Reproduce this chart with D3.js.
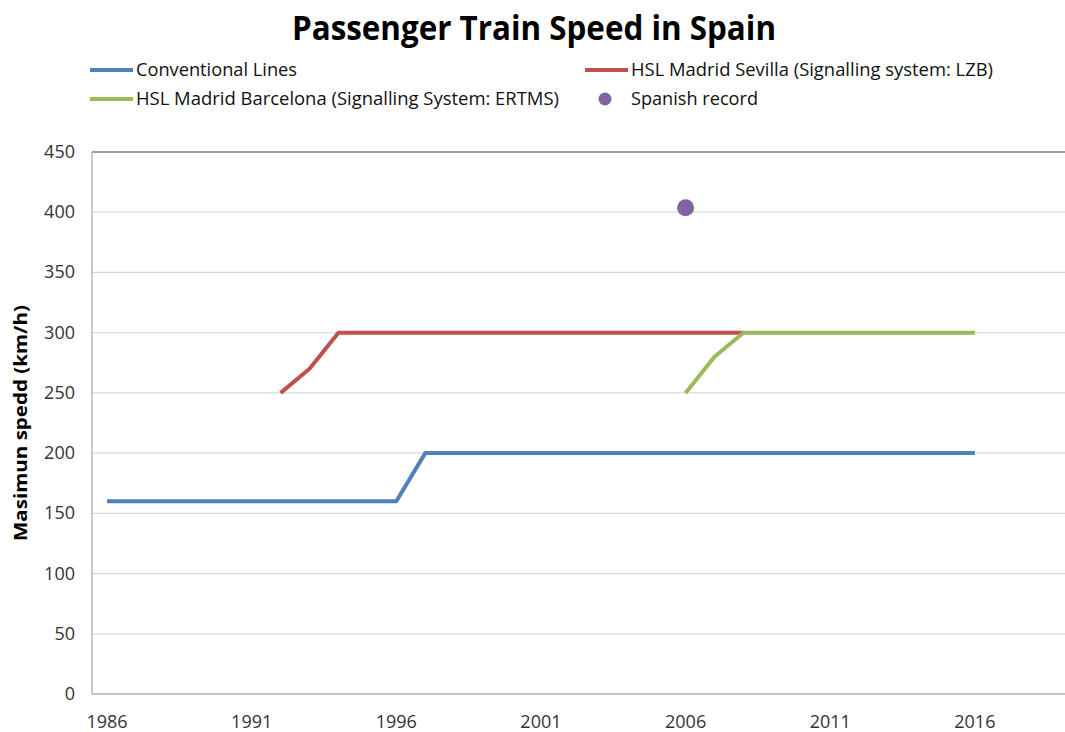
<!DOCTYPE html>
<html>
<head>
<meta charset="utf-8">
<script src="https://cdn.jsdelivr.net/npm/d3@7"></script>
<style>
  body { margin: 0; background: #fff; }
  text { font-family: "Liberation Sans Narrow", "Open Sans", sans-serif; }
</style>
</head>
<body>
<div id="chart"></div>
<script>
// data
const years = d3.range(1986, 2017);
const conventional = [160,160,160,160,160,160,160,160,160,160,160,
  200,200,200,200,200,200,200,200,200,200,200,200,200,200,200,200,200,200,200,200];
const sevillaYears = d3.range(1992, 2009);
const sevilla = [250,270,300,300,300,300,300,300,300,300,300,300,300,300,300,300,300];
const barcelonaYears = d3.range(2006, 2017);
const barcelona = [250,280,300,300,300,300,300,300,300,300,300];
const recordYear = [2006];
const record = [403.7];
const yTicks = [0,50,100,150,200,250,300,350,400,450];
const xTicks = [1986,1991,1996,2001,2006,2011,2016];

const width = 1065, height = 732;
const margin = {top: 152, left: 92, bottom: 38, right: 0};

const svg = d3.select("#chart").append("svg")
    .attr("width", width)
    .attr("height", height);

// category axis, points in the middle of each year slot
const x = d3.scaleLinear()
    .domain([1985.48, 2019.15])
    .range([margin.left, width + 1]);
const y = d3.scaleLinear()
    .domain([0, 450])
    .range([height - margin.bottom, margin.top]);

// gridlines
svg.append("g")
    .selectAll("line")
    .data(yTicks.filter(d => d > 0 && d < 450))
    .enter().append("line")
    .attr("x1", margin.left).attr("x2", width)
    .attr("y1", d => y(d)).attr("y2", d => y(d))
    .attr("stroke", "#d9d9d9").attr("stroke-width", 1.2);

// frame: top line, left axis, bottom axis
svg.append("line")
    .attr("x1", margin.left).attr("x2", width)
    .attr("y1", y(450)).attr("y2", y(450))
    .attr("stroke", "#7f7f7f").attr("stroke-width", 1.6);
svg.append("line")
    .attr("x1", margin.left).attr("x2", margin.left)
    .attr("y1", y(450)).attr("y2", y(0))
    .attr("stroke", "#a6a6a6").attr("stroke-width", 1.2);
svg.append("line")
    .attr("x1", margin.left).attr("x2", width)
    .attr("y1", y(0)).attr("y2", y(0))
    .attr("stroke", "#8c8c8c").attr("stroke-width", 1.2);

// tick labels
svg.append("g")
    .selectAll("text")
    .data(yTicks)
    .enter().append("text")
    .attr("x", 75)
    .attr("y", d => y(d) + 6)
    .attr("text-anchor", "end")
    .attr("font-family", "'Open Sans', sans-serif")
    .attr("font-size", 18)
    .attr("fill", "#333")
    .text(d => d);

svg.append("g")
    .selectAll("text")
    .data(xTicks)
    .enter().append("text")
    .attr("x", d => x(d))
    .attr("y", 728)
    .attr("text-anchor", "middle")
    .attr("font-family", "'Open Sans', sans-serif")
    .attr("font-size", 18)
    .attr("fill", "#333")
    .text(d => d);

// y axis title
svg.append("text")
    .attr("transform", `translate(27,${(y(0) + y(450)) / 2}) rotate(-90)`)
    .attr("text-anchor", "middle")
    .attr("font-family", "'Open Sans', sans-serif")
    .attr("font-weight", "bold")
    .attr("font-size", 18)
    .attr("textLength", 236)
    .attr("lengthAdjust", "spacingAndGlyphs")
    .text("Masimun spedd (km/h)");

// lines
const line = d3.line().x(d => x(d[0])).y(d => y(d[1]));
const series = [
    {xs: years, ys: conventional, color: "#4f81bd"},
    {xs: sevillaYears, ys: sevilla, color: "#c0504d"},
    {xs: barcelonaYears, ys: barcelona, color: "#9bbb59"}
];
series.forEach(function(s) {
    svg.append("path")
        .datum(s.xs.map((yr, i) => [yr, s.ys[i]]))
        .attr("d", line)
        .attr("fill", "none")
        .attr("stroke", s.color)
        .attr("stroke-width", 4)
        .attr("stroke-linejoin", "round");
});

// record point
svg.append("g")
    .selectAll("circle")
    .data(record)
    .enter().append("circle")
    .attr("cx", (d, i) => x(recordYear[i]))
    .attr("cy", d => y(d))
    .attr("r", 8.5)
    .attr("fill", "#8064a2");

// title
svg.append("text")
    .attr("x", 534)
    .attr("y", 40)
    .attr("text-anchor", "middle")
    .attr("font-weight", "bold")
    .attr("font-size", 34)
    .attr("textLength", 484)
    .attr("lengthAdjust", "spacingAndGlyphs")
    .text("Passenger Train Speed in Spain");

// legend
const legendItems = [
    {label: "Conventional Lines", color: "#4f81bd", type: "line", lx: 90, ly: 70, w: 161},
    {label: "HSL Madrid Sevilla (Signalling system: LZB)", color: "#c0504d", type: "line", lx: 585, ly: 70, w: 362},
    {label: "HSL Madrid Barcelona (Signalling System: ERTMS)", color: "#9bbb59", type: "line", lx: 90, ly: 99, w: 423},
    {label: "Spanish record", color: "#8064a2", type: "dot", lx: 585, ly: 99, w: 127}
];
const leg = svg.append("g");
legendItems.forEach(function(d) {
    if (d.type === "line") {
        leg.append("line")
            .attr("x1", d.lx).attr("x2", d.lx + 43)
            .attr("y1", d.ly).attr("y2", d.ly)
            .attr("stroke", d.color).attr("stroke-width", 4);
    } else {
        leg.append("circle")
            .attr("cx", d.lx + 20).attr("cy", d.ly)
            .attr("r", 6.5)
            .attr("fill", d.color);
    }
    leg.append("text")
        .attr("x", d.lx + 46)
        .attr("y", d.ly + 6)
        .attr("font-size", 18)
        .attr("fill", "#111")
        .attr("textLength", d.w)
        .attr("lengthAdjust", "spacingAndGlyphs")
        .text(d.label);
});
</script>
</body>
</html>
